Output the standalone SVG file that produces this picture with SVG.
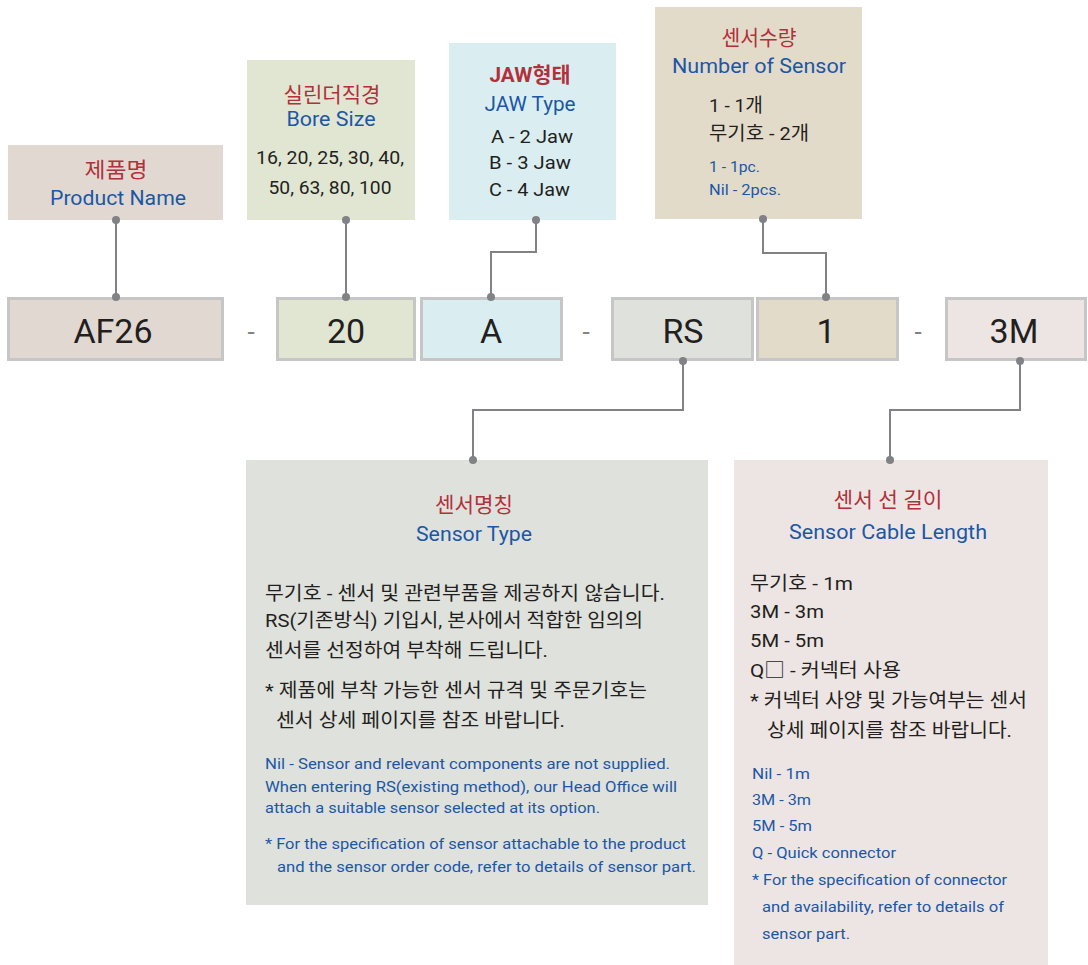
<svg xmlns="http://www.w3.org/2000/svg" width="1088" height="965" viewBox="0 0 1088 965">
<style>
text{font-family:Roboto,"Noto Sans","Noto Sans CJK KR",sans-serif;}
.r{fill:#b3303b;font-size:21px;}
.b{fill:#1c57a5;font-size:21px;}
.k{fill:#231f20;font-size:19px;}
.kb{fill:#231f20;font-size:18px;}
.bs{fill:#1c57a5;font-size:15.5px;}
.code{fill:#231f20;font-size:34px;text-anchor:middle;}
.m{text-anchor:middle;}
.cb{stroke:#c6c6c6;stroke-width:3;}
.ln{fill:none;stroke:#808285;stroke-width:2;}
.dot{fill:#808285;}
</style>
<rect width="1088" height="965" fill="#ffffff"/>

<g id="product-name">
<rect x="8" y="145" width="215" height="75" fill="#e1d9d1"/>
<text class="r m" x="116" y="177" textLength="63" lengthAdjust="spacingAndGlyphs">제품명</text>
<text class="b m" x="118" y="205" textLength="136" lengthAdjust="spacingAndGlyphs">Product Name</text>
</g>

<g id="bore-size">
<rect x="247" y="60" width="168" height="160" fill="#e1e6d3"/>
<text class="r m" x="332" y="102" textLength="97" lengthAdjust="spacingAndGlyphs">실린더직경</text>
<text class="b m" x="331" y="126" textLength="89" lengthAdjust="spacingAndGlyphs">Bore Size</text>
<text class="k m" x="330" y="164" textLength="148" lengthAdjust="spacingAndGlyphs">16, 20, 25, 30, 40,</text>
<text class="k m" x="330" y="194" textLength="123" lengthAdjust="spacingAndGlyphs">50, 63, 80, 100</text>
</g>

<g id="jaw-type">
<rect x="449" y="43" width="167" height="177" fill="#daeef2"/>
<text class="r m" x="530" y="82" font-weight="bold" textLength="81" lengthAdjust="spacingAndGlyphs">JAW형태</text>
<text class="b m" x="530" y="111" textLength="91" lengthAdjust="spacingAndGlyphs">JAW Type</text>
<text class="k" x="491" y="143" textLength="82" lengthAdjust="spacingAndGlyphs">A - 2 Jaw</text>
<text class="k" x="489" y="169" textLength="82" lengthAdjust="spacingAndGlyphs">B - 3 Jaw</text>
<text class="k" x="489" y="196" textLength="81" lengthAdjust="spacingAndGlyphs">C - 4 Jaw</text>
</g>

<g id="sensor-count">
<rect x="655" y="7" width="207" height="212" fill="#e2dbc9"/>
<text class="r m" x="759" y="45" textLength="75" lengthAdjust="spacingAndGlyphs">센서수량</text>
<text class="b m" x="759" y="73" textLength="174" lengthAdjust="spacingAndGlyphs">Number of Sensor</text>
<text class="k" x="709" y="112" textLength="54" lengthAdjust="spacingAndGlyphs">1 - 1개</text>
<text class="k" x="709" y="140" textLength="100" lengthAdjust="spacingAndGlyphs">무기호 - 2개</text>
<text class="bs" x="709" y="172" textLength="51" lengthAdjust="spacingAndGlyphs">1 - 1pc.</text>
<text class="bs" x="709" y="195" textLength="72" lengthAdjust="spacingAndGlyphs">Nil - 2pcs.</text>
</g>

<g id="code-af26">
<rect class="cb" x="8.5" y="298.5" width="214" height="61" fill="#e1d9d1"/>
<text class="code" x="113" y="343">AF26</text>
</g>
<g id="dash1"><text class="code" x="251" y="341" fill="#808285" font-size="26" style="fill:#808285;font-size:26px">-</text></g>
<g id="code-20">
<rect class="cb" x="277.5" y="298.5" width="137" height="61" fill="#e1e6d3"/>
<text class="code" x="346" y="343">20</text>
</g>
<g id="code-a">
<rect class="cb" x="421.5" y="298.5" width="140" height="61" fill="#daeef2"/>
<text class="code" x="491" y="343">A</text>
</g>
<g id="dash2"><text class="code" x="586" y="341" style="fill:#808285;font-size:26px">-</text></g>
<g id="code-rs">
<rect class="cb" x="612.5" y="298.5" width="140" height="61" fill="#dfe1dc"/>
<text class="code" x="683" y="343">RS</text>
</g>
<g id="code-1">
<rect class="cb" x="757.5" y="298.5" width="140" height="61" fill="#e2dbc9"/>
<text class="code" x="826" y="343">1</text>
</g>
<g id="dash3"><text class="code" x="918" y="341" style="fill:#808285;font-size:26px">-</text></g>
<g id="code-3m">
<rect class="cb" x="946.5" y="298.5" width="139" height="61" fill="#ede5e3"/>
<text class="code" x="1014" y="343">3M</text>
</g>

<g id="sensor-type">
<rect x="246" y="460" width="462" height="445" fill="#dfe1dc"/>
<text class="r m" x="474" y="512" textLength="78" lengthAdjust="spacingAndGlyphs">센서명칭</text>
<text class="b m" x="474" y="541" textLength="116" lengthAdjust="spacingAndGlyphs">Sensor Type</text>
<text class="k" x="265" y="600" textLength="400" lengthAdjust="spacingAndGlyphs">무기호 - 센서 및 관련부품을 제공하지 않습니다.</text>
<text class="k" x="265" y="627" textLength="378" lengthAdjust="spacingAndGlyphs">RS(기존방식) 기입시, 본사에서 적합한 임의의</text>
<text class="k" x="265" y="657" textLength="283" lengthAdjust="spacingAndGlyphs">센서를 선정하여 부착해 드립니다.</text>
<text class="k" x="265" y="697" textLength="382" lengthAdjust="spacingAndGlyphs">* 제품에 부착 가능한 센서 규격 및 주문기호는</text>
<text class="k" x="276" y="727" textLength="289" lengthAdjust="spacingAndGlyphs">센서 상세 페이지를 참조 바랍니다.</text>
<text class="bs" x="265" y="769" textLength="405" lengthAdjust="spacingAndGlyphs">Nil - Sensor and relevant components are not supplied.</text>
<text class="bs" x="265" y="792" textLength="412" lengthAdjust="spacingAndGlyphs">When entering RS(existing method), our Head Office will</text>
<text class="bs" x="265" y="813" textLength="335" lengthAdjust="spacingAndGlyphs">attach a suitable sensor selected at its option.</text>
<text class="bs" x="265" y="849" textLength="421" lengthAdjust="spacingAndGlyphs">* For the specification of sensor attachable to the product</text>
<text class="bs" x="277" y="872" textLength="419" lengthAdjust="spacingAndGlyphs">and the sensor order code, refer to details of sensor part.</text>
</g>

<g id="cable-length">
<rect x="734" y="460" width="314" height="505" fill="#ede5e3"/>
<text class="r m" x="888" y="507" textLength="109" lengthAdjust="spacingAndGlyphs">센서 선 길이</text>
<text class="b m" x="888" y="539" textLength="198" lengthAdjust="spacingAndGlyphs">Sensor Cable Length</text>
<text class="k" x="750" y="590" textLength="103" lengthAdjust="spacingAndGlyphs">무기호 - 1m</text>
<text class="k" x="750" y="618" textLength="74" lengthAdjust="spacingAndGlyphs">3M - 3m</text>
<text class="k" x="750" y="647" textLength="74" lengthAdjust="spacingAndGlyphs">5M - 5m</text>
<text class="k" x="750" y="677" textLength="151" lengthAdjust="spacingAndGlyphs">Q□ - 커넥터 사용</text>
<text class="k" x="750" y="707" textLength="277" lengthAdjust="spacingAndGlyphs">* 커넥터 사양 및 가능여부는 센서</text>
<text class="k" x="767" y="737" textLength="245" lengthAdjust="spacingAndGlyphs">상세 페이지를 참조 바랍니다.</text>
<text class="bs" x="752" y="779" textLength="58" lengthAdjust="spacingAndGlyphs">Nil - 1m</text>
<text class="bs" x="752" y="805" textLength="59" lengthAdjust="spacingAndGlyphs">3M - 3m</text>
<text class="bs" x="752" y="831" textLength="60" lengthAdjust="spacingAndGlyphs">5M - 5m</text>
<text class="bs" x="752" y="858" textLength="144" lengthAdjust="spacingAndGlyphs">Q - Quick connector</text>
<text class="bs" x="752" y="885" textLength="255" lengthAdjust="spacingAndGlyphs">* For the specification of connector</text>
<text class="bs" x="762" y="912" textLength="242" lengthAdjust="spacingAndGlyphs">and availability, refer to details of</text>
<text class="bs" x="762" y="939" textLength="88" lengthAdjust="spacingAndGlyphs">sensor part.</text>
</g>

<g id="connectors">
<path class="ln" d="M116 220 V297"/>
<circle class="dot" cx="116" cy="220" r="4"/><circle class="dot" cx="116" cy="297" r="4"/>
<path class="ln" d="M346 220 V297"/>
<circle class="dot" cx="346" cy="220" r="4"/><circle class="dot" cx="346" cy="297" r="4"/>
<path class="ln" d="M536 220 V252 H491 V297"/>
<circle class="dot" cx="536" cy="220" r="4"/><circle class="dot" cx="491" cy="297" r="4"/>
<path class="ln" d="M763 219 V253 H826 V297"/>
<circle class="dot" cx="763" cy="219" r="4"/><circle class="dot" cx="826" cy="297" r="4"/>
<path class="ln" d="M683 361 V410 H473 V460"/>
<circle class="dot" cx="683" cy="361" r="4"/><circle class="dot" cx="473" cy="460" r="4"/>
<path class="ln" d="M1020 361 V410 H890 V460"/>
<circle class="dot" cx="1020" cy="361" r="4"/><circle class="dot" cx="890" cy="460" r="4"/>
</g>
</svg>
